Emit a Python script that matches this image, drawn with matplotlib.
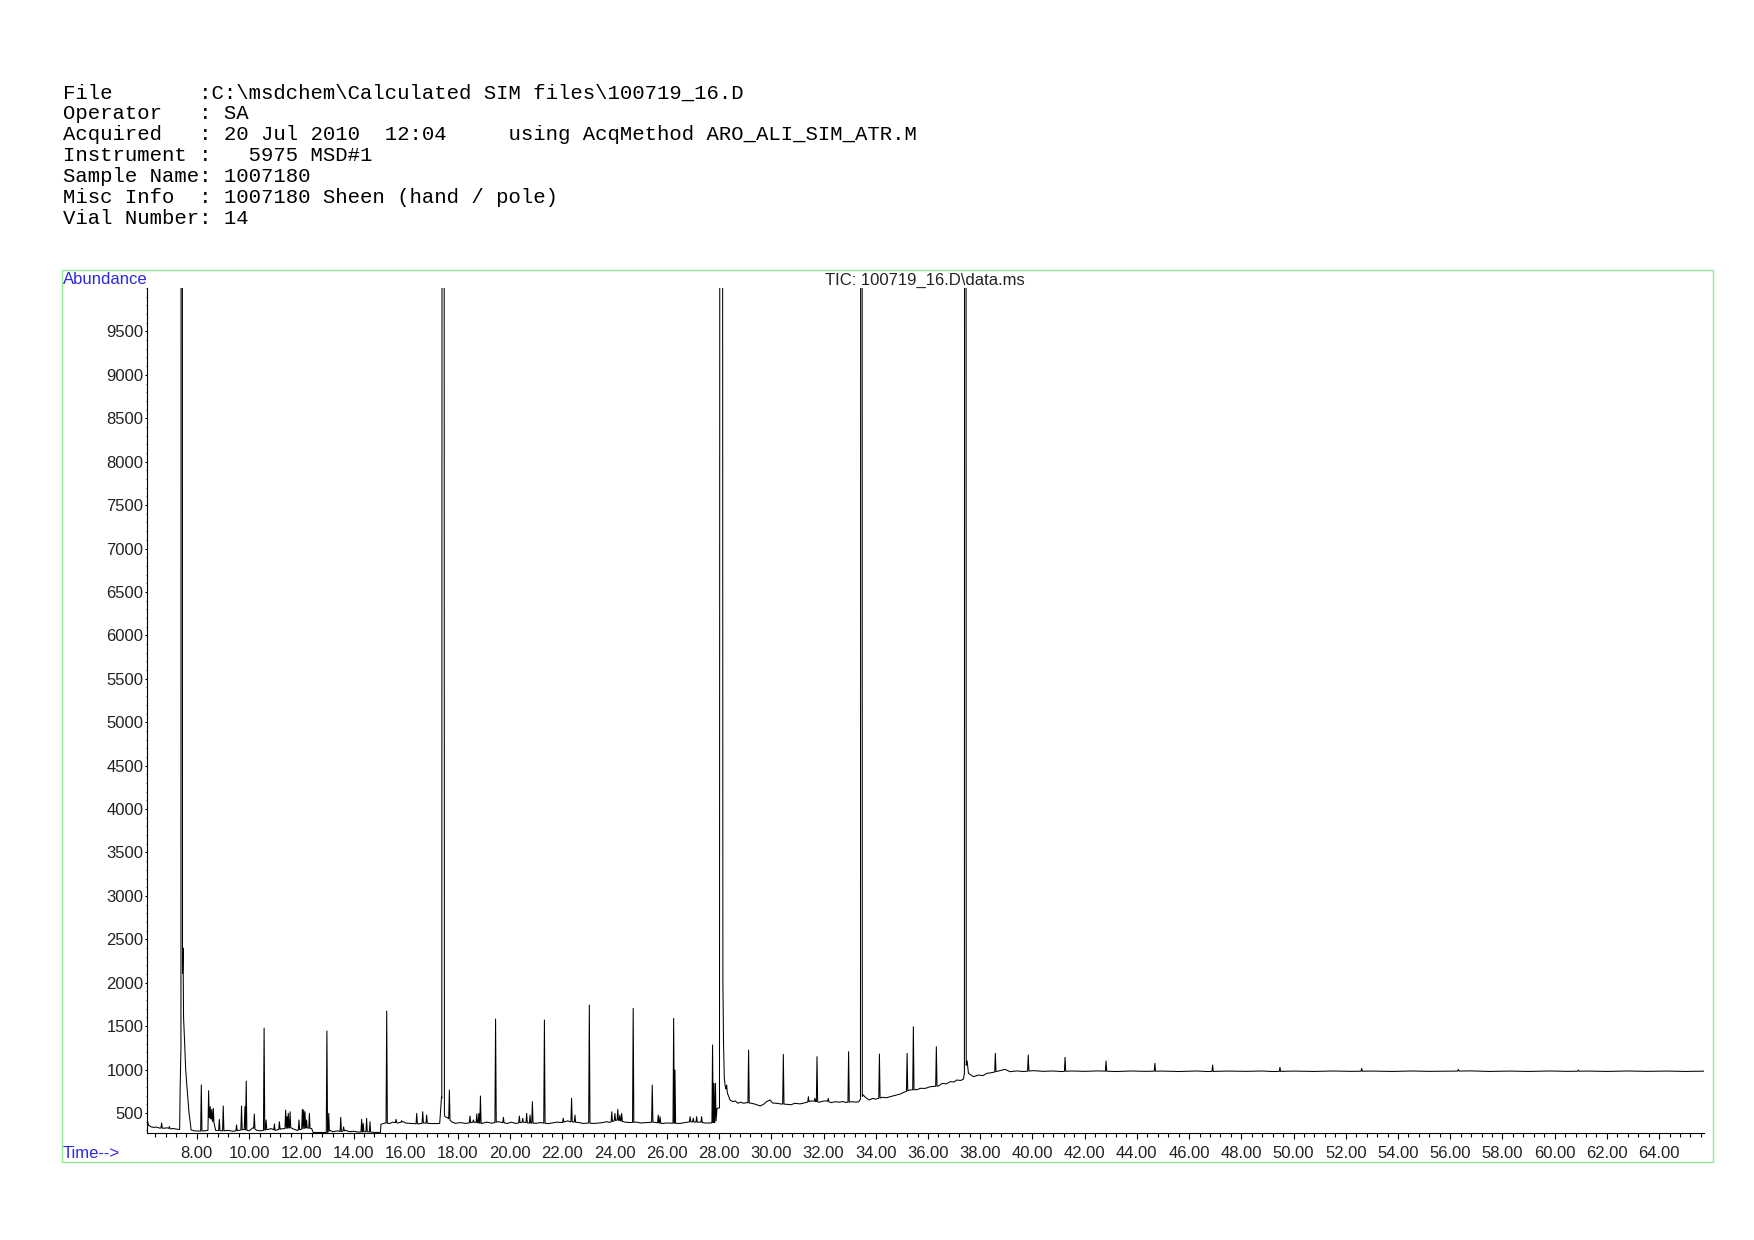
import numpy as np
import matplotlib.pyplot as plt
from matplotlib.patches import Rectangle
from matplotlib.ticker import MultipleLocator, FixedLocator, FormatStrFormatter

W, H = 1754, 1240

header_lines = [
    "File       :C:\\msdchem\\Calculated SIM files\\100719_16.D",
    "Operator   : SA",
    "Acquired   : 20 Jul 2010  12:04     using AcqMethod ARO_ALI_SIM_ATR.M",
    "Instrument :   5975 MSD#1",
    "Sample Name: 1007180",
    "Misc Info  : 1007180 Sheen (hand / pole)",
    "Vial Number: 14",
]
trace_title = "TIC: 100719_16.D\\data.ms"

# baseline of the TIC (min, abundance)
base_t = [6.09, 6.15, 6.25, 6.35, 6.45, 6.55, 6.75, 6.85, 7.00, 7.10, 7.20, 7.34,
          7.36, 7.47, 7.49, 7.53, 7.57, 7.62, 7.70, 7.78, 7.90, 8.10, 8.30, 8.42,
          8.48, 8.66, 8.72, 9.00, 9.20, 9.40, 9.60, 9.80, 10.00, 10.15, 10.30,
          10.45, 10.70, 10.85, 11.00, 11.20, 11.30, 11.60, 11.75, 11.85, 12.20,
          12.40, 12.45, 13.00, 13.10, 13.20, 13.40, 13.50, 13.70, 13.85, 14.00,
          14.20, 14.50, 14.75, 15.03, 15.05, 15.20, 15.40, 15.50, 15.70, 15.90,
          16.00, 16.20, 16.50, 16.70, 17.00, 17.30, 17.37, 17.50, 17.63, 17.75,
          17.90, 18.10, 18.30, 18.40, 18.60, 18.90, 19.10, 19.30, 19.55, 19.70,
          19.90, 20.05, 20.20, 20.50, 20.70, 21.00, 21.15, 21.45, 21.60, 21.80,
          22.00, 22.20, 22.30, 22.60, 22.80, 23.00, 23.20, 23.50, 23.70, 23.80,
          24.10, 24.40, 24.60, 24.85, 25.00, 25.20, 25.50, 25.80, 26.00, 26.50,
          26.70, 26.90, 27.10, 27.30, 27.45, 27.60, 27.88, 27.92, 28.02, 28.14,
          28.17, 28.20, 28.24, 28.33, 28.42, 28.52, 28.62, 28.72, 28.82, 28.95,
          29.05, 29.25, 29.40, 29.57, 29.70, 29.82, 29.95, 30.05, 30.20, 30.35,
          30.60, 30.75, 30.90, 31.10, 31.25, 31.55, 31.85, 31.95, 32.10, 32.30,
          32.45, 32.60, 32.75, 32.85, 33.10, 33.25, 33.35, 33.52, 33.60, 33.75,
          33.88, 34.00, 34.25, 34.40, 34.55, 34.70, 34.80, 34.95, 35.05, 35.30,
          35.60, 35.70, 35.90, 36.10, 36.40, 36.55, 36.70, 36.85, 37.00, 37.10,
          37.25, 37.35, 37.50, 37.55, 37.74, 37.95, 38.10, 38.25, 38.45, 38.76,
          38.95, 39.14, 39.40, 39.65, 40.05, 40.40, 40.80, 41.10, 41.50, 42.00,
          42.50, 43.20, 43.80, 44.30, 45.00, 45.60, 46.30, 46.70, 47.50, 48.20,
          48.80, 49.20, 50.00, 50.80, 51.50, 52.20, 53.00, 53.80, 54.50, 55.20,
          56.00, 56.80, 57.50, 58.30, 59.00, 59.80, 60.50, 61.30, 62.00, 62.80,
          63.50, 64.30, 65.00, 65.72]
base_v = [430, 360, 340, 335, 338, 328, 325, 330, 318, 322, 315, 310,
          800, 2400, 1600, 1320, 1010, 800, 500, 305, 295, 292, 295, 300,
          460, 380, 300, 295, 300, 290, 300, 310, 295, 330, 300,
          295, 310, 320, 300, 315, 320, 330, 310, 300, 330,
          320, 276, 276, 300, 285, 295, 285, 300, 285, 290,
          280, 285, 278, 276, 370, 385, 380, 395, 385, 400,
          385, 380, 375, 385, 378, 380, 688, 458, 440, 400,
          381, 390, 380, 385, 395, 380, 395, 383, 400, 390,
          380, 395, 380, 395, 385, 382, 390, 378, 385, 395,
          390, 410, 400, 392, 380, 385, 380, 388, 400, 392,
          420, 395, 390, 395, 385, 390, 395, 380, 385, 380,
          390, 400, 395, 395, 385, 385, 390, 554, 560, 2170,
          1300, 900, 800, 720, 650, 631, 640, 612, 625, 612,
          620, 612, 600, 581, 600, 631, 650, 615, 612, 605,
          600, 595, 612, 605, 615, 640, 625, 635, 640, 620,
          630, 625, 632, 622, 630, 625, 630, 708, 682, 650,
          668, 660, 681, 676, 688, 700, 708, 720, 735, 765,
          770, 784, 784, 804, 811, 842, 835, 861, 858, 880,
          875, 888, 1100, 957, 919, 938, 930, 957, 965, 988,
          1003, 976, 985, 978, 988, 980, 984, 978, 984, 980,
          985, 978, 984, 980, 983, 978, 984, 978, 983, 980,
          984, 978, 983, 979, 984, 980, 983, 979, 984, 980,
          982, 985, 979, 983, 979, 984, 980, 983, 979, 984,
          980, 983, 979, 982]

OFFSCALE = 60000
# peaks (retention time, apex abundance)
peak_t = [6.65, 6.95, 7.42, 8.17, 8.45, 8.51, 8.57, 8.63, 8.86, 9.01, 9.52, 9.71,
          9.84, 9.89, 10.20, 10.575, 10.65, 10.97, 11.16, 11.40, 11.45, 11.50,
          11.57, 11.91, 12.04, 12.09, 12.14, 12.20, 12.31, 12.98, 13.05, 13.51,
          13.62, 14.31, 14.37, 14.50, 14.63, 15.27, 15.63, 15.84, 16.42, 16.65,
          16.80, 17.43, 17.67, 18.46, 18.59, 18.72, 18.80, 18.86, 19.44, 19.74,
          20.35, 20.48, 20.63, 20.76, 20.85, 21.31, 22.03, 22.35, 22.48, 23.03,
          23.89, 24.01, 24.12, 24.20, 24.27, 24.71, 25.44, 25.67, 25.74, 26.26,
          26.31, 26.89, 27.01, 27.14, 27.33, 27.75, 27.80, 27.86, 28.08, 28.29,
          29.13, 30.46, 31.42, 31.67, 31.75, 32.18, 32.96, 33.45, 34.14, 35.20,
          35.44, 36.32, 37.43, 38.58, 39.84, 41.25, 42.82, 44.69, 46.90, 49.48,
          52.61, 56.31, 60.91]
peak_h = [385, 345, OFFSCALE, 822, 757, 573, 542, 554, 427, 581, 362, 581,
          573, 869, 489, 1478, 420, 374, 400, 534, 458, 496,
          515, 420, 542, 535, 515, 420, 497, 1444, 496, 450,
          340, 427, 381, 439, 400, 1674, 427, 412, 496, 515,
          477, OFFSCALE, 765, 465, 420, 489, 496, 696, 1582, 450,
          465, 440, 496, 477, 631, 1571, 440, 669, 477, 1743,
          515, 496, 542, 477, 496, 1705, 822, 477, 458, 1590,
          995, 458, 440, 458, 458, 1283, 842, 842, OFFSCALE, 822,
          1225, 1175, 688, 669, 1149, 669, 1206, OFFSCALE, 1179, 1187,
          1494, 1264, OFFSCALE, 1187, 1168, 1141, 1099, 1072, 1053, 1026,
          1014, 1003, 995]
big_w = {7.42: 0.03, 17.43: 0.05, 28.08: 0.065, 33.45: 0.035, 37.43: 0.035}
ytick_vals = list(range(500, 10000, 500))

# build the polyline: baseline knots + triangular spikes
bt = np.array(base_t)
bv = np.array(base_v, dtype=float)
pt = np.array(peak_t)
ph = np.array(peak_h, dtype=float)
pw = np.array([big_w.get(t, 0.025) for t in peak_t])
keep = np.ones(len(bt), bool)
for t0, w0 in zip(pt, pw):
    keep &= ~((bt > t0 - w0) & (bt < t0 + w0))
xs = list(bt[keep])
ys = list(bv[keep])
for t0, h0, w0 in zip(pt, ph, pw):
    xs += [t0 - w0, t0, t0 + w0]
    ys += [np.interp(t0 - w0, bt, bv), h0, np.interp(t0 + w0, bt, bv)]
order = np.argsort(xs, kind="stable")
xs = np.array(xs)[order]
ys = np.array(ys)[order]

fig = plt.figure(figsize=(W / 100, H / 100), dpi=100)
ax = fig.add_axes([147 / W, 1 - 1133 / H, (1704 - 147) / W, (1133 - 288) / H])
ax.plot(xs, ys, color="black", lw=0.75)
ax.set_xlim(6.09, 65.72)
ax.set_ylim(270, 10000)

for s in ("top", "right"):
    ax.spines[s].set_visible(False)
for s in ("left", "bottom"):
    ax.spines[s].set_linewidth(0.8)

ax.xaxis.set_major_locator(MultipleLocator(2))
ax.xaxis.set_minor_locator(MultipleLocator(0.4))
ax.xaxis.set_major_formatter(FormatStrFormatter("%.2f"))
ax.yaxis.set_major_locator(FixedLocator(ytick_vals))
ax.yaxis.set_minor_locator(MultipleLocator(100))
ax.yaxis.set_major_formatter(FormatStrFormatter("%d"))
ax.tick_params(axis="x", which="major", length=4.5, width=0.8, pad=4.5,
               labelsize=12, labelcolor="#222222")
ax.tick_params(axis="x", which="minor", length=3, width=0.8)
ax.tick_params(axis="y", which="major", length=1.5, width=0.8, pad=1.2,
               labelsize=12, labelcolor="#222222")
ax.tick_params(axis="y", which="minor", length=0.8, width=0.6)
for lab in ax.get_xticklabels() + ax.get_yticklabels():
    lab.set_family("Liberation Sans")

# header block
for i, line in enumerate(header_lines):
    fig.text(63 / W, 1 - (93 + i * 20.9) / H, line, family="Liberation Mono",
             fontsize=14.9, va="center", ha="left", color="black")

# green frame and labels
fig.add_artist(Rectangle((62 / W, 1 - 1161.5 / H), (1712.5 - 62) / W, (1161.5 - 269.5) / H,
                         transform=fig.transFigure, fill=False,
                         edgecolor="#98e698", lw=1.0))
fig.text(63 / W, 1 - 280 / H, "Abundance", family="Liberation Sans", fontsize=12,
         color="#2a2ae0", va="center", ha="left")
fig.text(63 / W, 1 - 1153 / H, "Time-->", family="Liberation Sans", fontsize=12,
         color="#2a2ae0", va="center", ha="left")
fig.text(925 / W, 1 - 280 / H, trace_title, family="Liberation Sans", fontsize=12,
         color="#222222", va="center", ha="center")

fig.savefig("out.png", dpi=100)
